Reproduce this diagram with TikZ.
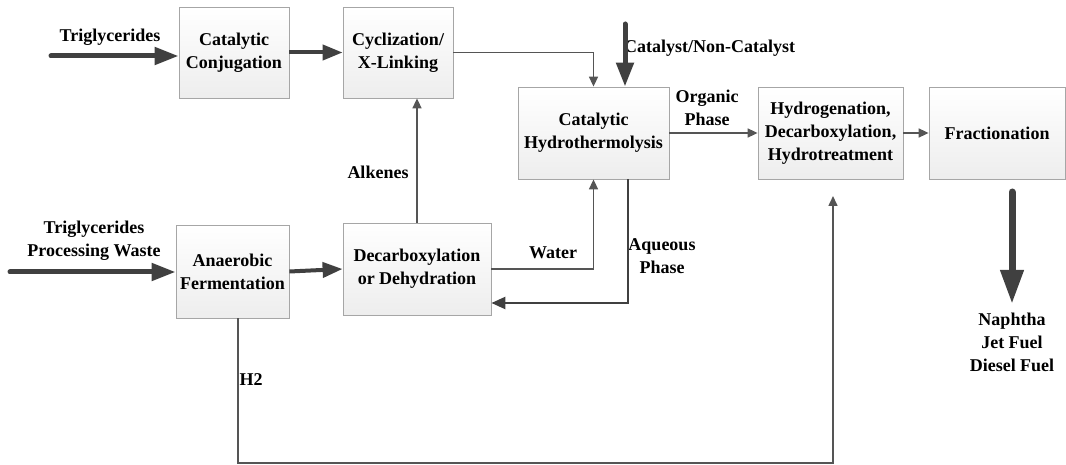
\documentclass[tikz,border=0pt]{standalone}
\usepackage{fontspec}
\setmainfont{Liberation Serif}
\usetikzlibrary{arrows.meta,calc}
\definecolor{lineclr}{HTML}{555555}
\definecolor{thickclr}{HTML}{404040}
\begin{document}
\begin{tikzpicture}[x=1pt,y=-1pt,
  font=\fontsize{18}{23}\selectfont\bfseries,
  procbox/.style={draw=gray!70, line width=0.8pt, top color=white, bottom color=gray!14,
    align=center, inner sep=2pt},
  thin/.style={draw=lineclr, line width=1.6pt, -{Triangle[length=10pt,width=9pt]}},
  heavy/.style={draw=thickclr, line width=4pt, -{Triangle[length=20pt,width=15pt]}},
  feed/.style={draw=thickclr, line width=5pt, line cap=round, -{Triangle[length=24pt,width=17pt]}},
  product/.style={draw=thickclr, line width=7pt, line cap=round, -{Triangle[length=34pt,width=22pt]}},
  aqueous/.style={draw=thickclr, line width=2.4pt, -{Triangle[length=14pt,width=12pt]}},
  lbl/.style={align=center, inner sep=0pt}]
\useasboundingbox (0,0) rectangle (1066,465);

% process units
\node[procbox, minimum width=110pt, minimum height=91pt] (conj)   at (234,52.5)  {Catalytic\\Conjugation};
\node[procbox, minimum width=110pt, minimum height=91pt] (cyc)    at (398,52.5)  {Cyclization/\\X-Linking};
\node[procbox, minimum width=151pt, minimum height=92pt] (hydro)  at (593.5,133) {Catalytic\\Hydrothermolysis};
\node[procbox, minimum width=145pt, minimum height=92pt] (hyd)    at (830.5,133) {Hydrogenation,\\Decarboxylation,\\Hydrotreatment};
\node[procbox, minimum width=136pt, minimum height=92pt] (frac)   at (997,133)   {Fractionation};
\node[procbox, minimum width=113pt, minimum height=93pt] (anaer)  at (232.5,271.5) {Anaerobic\\Fermentation};
\node[procbox, minimum width=148pt, minimum height=92pt] (decarb) at (417,269)   {Decarboxylation\\or Dehydration};

% free ends of the feed and product lines
\coordinate (trig)  at (51,56);
\coordinate (waste) at (10,272);
\coordinate (cat)   at (625,24);
\coordinate (out1)  at (1012,192);
\coordinate (out2)  at (1012,304);
\coordinate (h2c)   at (833,463);
\coordinate (h2end) at (833,196);

% labels
\node[lbl] (ltrig)  at (110,37)    {Triglycerides};
\node[lbl] (lwaste) at (94,240.5)  {Triglycerides\\Processing Waste};
\node[lbl] (lalk)   at (378,172)   {Alkenes};
\node[lbl, anchor=west] (lcat) at (624,48) {Catalyst/Non-Catalyst};
\node[lbl] (lorg)   at (707,107.5) {Organic\\Phase};
\node[lbl] (lwat)   at (553,253)   {Water};
\node[lbl] (laq)    at (662,256.5) {Aqueous\\Phase};
\node[lbl] (lh2)    at (251,380)   {H2};
\node[lbl] (lprod)  at (1012,342)  {Naphtha\\Jet Fuel\\Diesel Fuel};

% feeds
\draw[feed]  (trig) -- (trig -| conj.west);
\draw[feed]  (waste) -- (waste -| anaer.west);
\draw[feed]  (cat) -- (cat |- hydro.north);

% main flow
\draw[heavy] (conj.east) -- (cyc.west);
\draw[heavy] (anaer.east) -- (decarb.west);
\draw[thin]  (cyc.east) -| (hydro.north);
\draw[thin]  (decarb.north) -- (decarb.north |- cyc.south);
\draw[thin]  (decarb.east) -| (hydro.south);
\draw[aqueous] ($(hydro.south)+(34.5,0)$) |- ($(decarb.east)+(0,34)$);
\draw[thin]  (hydro.east) -- (hyd.west);
\draw[thin]  (hyd.east) -- (frac.west);
\draw[thin]  ($(anaer.south)+(5.5,0)$) |- (h2c) -- (h2end);
\draw[product] (out1) -- (out2);
\end{tikzpicture}
\end{document}
